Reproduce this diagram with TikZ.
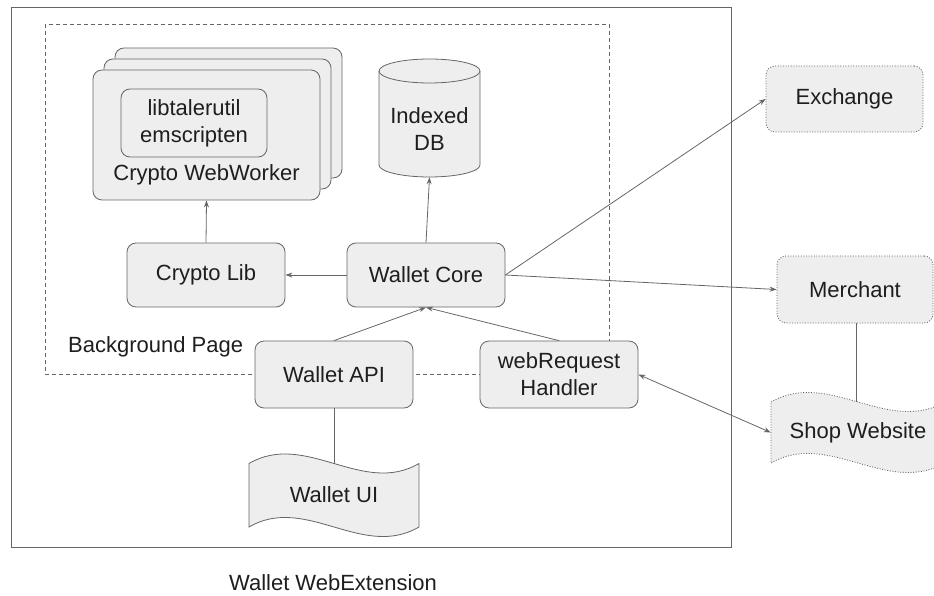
\documentclass[tikz,border=0pt]{standalone}
\usepackage{fontspec}
\setmainfont{Liberation Sans}
\usetikzlibrary{arrows.meta}
\definecolor{boxfill}{HTML}{EEEEEE}
\definecolor{edge}{HTML}{666666}
\definecolor{txt}{HTML}{1E1E1E}
\begin{document}
\begin{tikzpicture}[x=1pt,y=-1pt,
 every node/.style={font=\fontsize{22}{27}\selectfont, text=txt, align=center, inner sep=0pt},
 box/.style={draw=edge, fill=boxfill, rounded corners=9pt, line width=0.8pt},
 dotbox/.style={draw=edge, fill=boxfill, rounded corners=9pt, line width=0.8pt, dash pattern=on 1pt off 1.6pt},
 shapefill/.style={draw=edge, fill=boxfill, line width=0.8pt},
 arr/.style={draw=edge, line width=0.8pt, -{Stealth[length=7pt,width=5pt]}},
 biarr/.style={draw=edge, line width=0.8pt, {Stealth[length=7pt,width=5pt]}-{Stealth[length=7pt,width=5pt]}},
 conn/.style={draw=edge, line width=0.8pt}]
\useasboundingbox (0,0) rectangle (934,596);
% outer and background frames
\draw[edge, line width=0.9pt] (11,7.5) rectangle (731,547);
\draw[edge, line width=0.8pt, dash pattern=on 4pt off 3pt] (45,24) rectangle (609,374);

% crypto webworker stack
\node[box, minimum width=227pt, minimum height=130pt] (cw3) at (228.5,113) {};
\node[box, minimum width=227pt, minimum height=130pt] (cw2) at (217.5,124) {};
\node[box, minimum width=227pt, minimum height=130pt] (cw) at (206.5,135) {};
\node[box, minimum width=146pt, minimum height=68pt] (lib) at (194,123) {libtalerutil\\emscripten};
\node (cwl) at (206.5,175) {Crypto WebWorker};

% indexed db cylinder
\draw[shapefill] (379,71) -- (379,165) arc[start angle=180, end angle=0, x radius=50.5, y radius=12]
  -- (480,71) arc[start angle=0, end angle=-180, x radius=50.5, y radius=12] -- cycle;
\draw[edge, line width=0.8pt] (379,71) arc[start angle=180, end angle=0, x radius=50.5, y radius=12];
\node[minimum width=101pt, minimum height=118pt] (db) at (429.5,118) {};
\node (dbl) at (429.5,129) {Indexed\\DB};

% main boxes
\node[box, minimum width=158pt, minimum height=64pt] (cl) at (206,275) {Crypto Lib};
\node[box, minimum width=158pt, minimum height=64pt] (wc) at (426,275) {Wallet Core};
\node[box, minimum width=158pt, minimum height=67pt] (wapi) at (334,374.5) {Wallet API};
\node[box, minimum width=158pt, minimum height=67pt] (wrh) at (559,374.5) {webRequest\\Handler};

\node[anchor=west] (bgp) at (68,347) {Background Page};
\node (wwe) at (333,583) {Wallet WebExtension};

% wallet UI wave
\draw[shapefill] (249,463.5) .. controls (305.7,430.5) and (362.3,496.5) .. (419,463.5)
  -- (419,527) .. controls (362.3,560) and (305.7,494) .. (249,527) -- cycle;
\node[minimum width=170pt, minimum height=63pt] (wui) at (334,495) {Wallet UI};
\coordinate (wuitop) at (334,463.5);

% external boxes
\node[dotbox, minimum width=157pt, minimum height=66pt] (ex) at (844.5,99) {Exchange};
\node[dotbox, minimum width=156pt, minimum height=67pt] (me) at (855,289.5) {Merchant};
\draw[fill=boxfill, draw=edge, line width=0.8pt, dash pattern=on 1pt off 1.6pt]
  (771,402) .. controls (829,369) and (887,435) .. (945,402)
  -- (945,463) .. controls (887,496) and (829,430) .. (771,463) -- cycle;
\node[minimum width=174pt, minimum height=61pt] (shop) at (858,432.5) {Shop Website};
\coordinate (shoptop) at (856,402);

% connectors
\draw[arr] (cl.north) -- (cw.south);
\draw[arr] (wc.west) -- (cl.east);
\draw[arr] (wc.north) -- (db.south);
\draw[arr] (wapi.north) -- (wc.south);
\draw[arr] (wrh.north) -- (wc.south);
\draw[arr] (wc.east) -- (ex.west);
\draw[arr] (wc.east) -- (me.west);
\draw[biarr] (wrh.east) -- (shop.west);
\draw[conn] (me.south -| shoptop) -- (shoptop);
\draw[conn] (wapi.south) -- (wuitop);
\end{tikzpicture}
\end{document}
